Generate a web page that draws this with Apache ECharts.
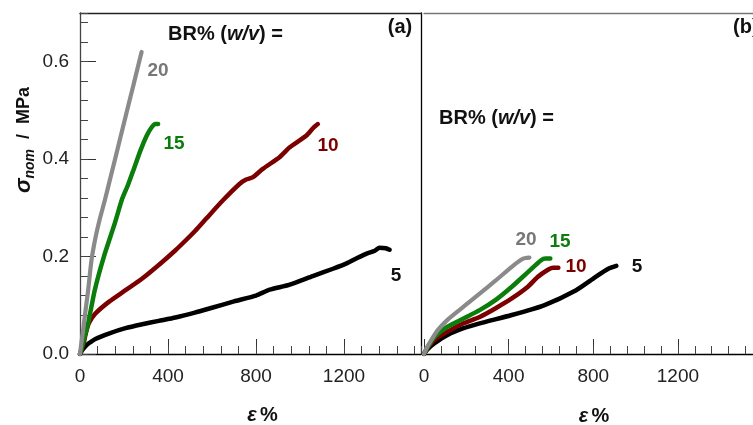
<!DOCTYPE html>
<html>
<head>
<meta charset="utf-8">
<script src="https://cdn.jsdelivr.net/npm/echarts@6/dist/echarts.min.js"></script>
<style>
html,body{margin:0;padding:0;background:#fff;}
#chart{width:753px;height:425px;}
</style>
</head>
<body>
<div id="chart"></div>
<script>
// ---------- data ----------
// Panel (a): [strain %, nominal stress MPa]
var a20 = [[0,0],[6,0.022],[14,0.048],[24,0.085],[37,0.131],[52,0.192],[70,0.238],[90,0.277],[112,0.314],[140,0.365],[161,0.403],[185,0.447],[207,0.487],[225,0.52],[245,0.556],[262,0.587],[280,0.62]];
var a15 = [[0,0],[8,0.012],[17,0.029],[37,0.063],[67,0.131],[108,0.199],[158,0.268],[192,0.319],[219,0.348],[240,0.374],[275,0.418],[303,0.448],[325,0.465],[343,0.472],[355,0.472]];
var a10 = [[0,0],[8,0.01],[17,0.022],[25,0.04],[40,0.063],[70,0.083],[131,0.107],[207,0.131],[283,0.155],[374,0.189],[434,0.213],[480,0.233],[522,0.252],[574,0.278],[651,0.316],[725,0.349],[755,0.358],[786,0.363],[831,0.380],[907,0.404],[952,0.424],[1028,0.448],[1060,0.464],[1081,0.472]];
var a5  = [[0,0],[10,0.008],[25,0.016],[40,0.022],[70,0.031],[131,0.042],[207,0.053],[283,0.061],[358,0.068],[434,0.075],[522,0.085],[600,0.095],[700,0.108],[800,0.12],[862,0.132],[950,0.142],[1058,0.160],[1150,0.175],[1212,0.186],[1260,0.197],[1303,0.206],[1340,0.212],[1361,0.218],[1390,0.217],[1407,0.214]];
// Panel (b)
var b20 = [[0,0],[12,0.012],[35,0.029],[65,0.049],[111,0.070],[187,0.097],[263,0.124],[339,0.151],[415,0.179],[461,0.194],[480,0.197],[498,0.198]];
var b15 = [[0,0],[15,0.012],[50,0.035],[111,0.056],[187,0.073],[263,0.090],[339,0.111],[415,0.138],[491,0.168],[552,0.192],[575,0.196],[597,0.196]];
var b10 = [[0,0],[15,0.011],[50,0.029],[111,0.046],[187,0.063],[263,0.076],[339,0.094],[415,0.114],[491,0.138],[537,0.158],[582,0.172],[610,0.177],[635,0.177]];
var b5  = [[0,0],[15,0.009],[50,0.022],[111,0.039],[187,0.053],[263,0.063],[415,0.080],[567,0.100],[719,0.131],[810,0.158],[871,0.175],[909,0.181]];

var xTickStep = 400, xMinorStep = 80;
var yTickStep = 0.2, yMinorStep = 0.04;
var xMaxA = 1550, xMaxB = 1555, yMax = 0.7;
var concLabels = ['20', '15', '10', '5'];

// ---------- styles ----------
var FONT = 'Liberation Sans, Arial, sans-serif';
var cGray = '#8a8a8a', cGreen = '#0b7d0b', cRed = '#7c0000', cBlack = '#000000';
var labelColors = ['#777777', cGreen, cRed, '#111111'];

function mainX(grid, max, showLabels) {
  return {
    type: 'value', gridIndex: grid, position: 'bottom', min: 0, max: max, interval: xTickStep,
    axisLine: { show: true, onZero: false, lineStyle: { color: '#000', width: 1.3 } },
    axisTick: { show: true, inside: true, length: 15, lineStyle: { color: '#333', width: 1 } },
    axisLabel: { show: showLabels, showMaxLabel: false, margin: 13, fontSize: 19, color: '#222', fontFamily: FONT,
      formatter: function (v) { return String(v); } },
    splitLine: { show: false }
  };
}
function minorX(grid, max) {
  return {
    type: 'value', gridIndex: grid, position: 'bottom', min: 0, max: max, interval: xMinorStep,
    axisLine: { show: false, onZero: false },
    axisTick: { show: true, inside: true, length: 8, lineStyle: { color: '#444', width: 1 } },
    axisLabel: { show: false }, splitLine: { show: false }
  };
}
function topX(grid, max, color) {
  return {
    type: 'value', gridIndex: grid, position: 'top', min: 0, max: max,
    axisLine: { show: true, onZero: false, lineStyle: { color: color, width: 1.3 } },
    axisTick: { show: false }, axisLabel: { show: false }, splitLine: { show: false }
  };
}

var option = {
  backgroundColor: '#fff',
  animation: false,
  grid: [
    { left: 80, top: 13, width: 341, height: 341 },
    { left: 424, top: 13, width: 341, height: 341 }
  ],
  xAxis: [
    mainX(0, xMaxA, true),
    minorX(0, xMaxA),
    topX(0, xMaxA, '#222'),
    mainX(1, xMaxB, true),
    minorX(1, xMaxB),
    topX(1, xMaxB, '#777')
  ],
  yAxis: [
    {
      type: 'value', gridIndex: 0, position: 'left', min: 0, max: yMax, interval: yTickStep,
      axisLine: { show: true, onZero: false, lineStyle: { color: '#444', width: 1.3 } },
      axisTick: { show: true, inside: true, length: 16, lineStyle: { color: '#333', width: 1 } },
      axisLabel: { showMaxLabel: false, margin: 11, fontSize: 19, color: '#222', fontFamily: FONT,
        formatter: function (v) { return v.toFixed(1); } },
      splitLine: { show: false }
    },
    {
      type: 'value', gridIndex: 0, position: 'left', min: 0, max: yMax, interval: yMinorStep,
      axisLine: { show: false, onZero: false },
      axisTick: { show: true, inside: true, length: 8, lineStyle: { color: '#444', width: 1 } },
      axisLabel: { show: false }, splitLine: { show: false }
    },
    {
      type: 'value', gridIndex: 0, position: 'right', min: 0, max: yMax,
      axisLine: { show: true, onZero: false, lineStyle: { color: '#000', width: 1.3 } },
      axisTick: { show: false }, axisLabel: { show: false }, splitLine: { show: false }
    },
    {
      type: 'value', gridIndex: 1, position: 'left', min: 0, max: yMax,
      axisLine: { show: false, onZero: false }, axisTick: { show: false },
      axisLabel: { show: false }, splitLine: { show: false }
    }
  ],
  series: [],
  graphic: []
};

function addLine(data, color, xi, yi, w) {
  option.series.push({
    type: 'line', data: data, xAxisIndex: xi, yAxisIndex: yi, showSymbol: false, smooth: 0.2,
    lineStyle: { color: color, width: w, cap: 'round', join: 'round' }, z: 3
  });
}
addLine(a5, cBlack, 0, 0, 4.5);
addLine(a10, cRed, 0, 0, 4.5);
addLine(a15, cGreen, 0, 0, 4.5);
addLine(a20, cGray, 0, 0, 4.2);
addLine(b5, cBlack, 3, 3, 4.5);
addLine(b10, cRed, 3, 3, 4.5);
addLine(b15, cGreen, 3, 3, 4.5);
addLine(b20, cGray, 3, 3, 4.2);

function txt(x, y, text, size, color, align, extra) {
  var st = { text: text, fill: color, font: 'bold ' + size + 'px ' + FONT, align: align || 'center', verticalAlign: 'middle' };
  if (extra) for (var k in extra) st[k] = extra[k];
  return { type: 'text', x: x, y: y, style: st, z: 10 };
}
var G = option.graphic;
// curve labels panel (a)
G.push(txt(158, 71, concLabels[0], 19, labelColors[0]));
G.push(txt(174, 144, concLabels[1], 19, labelColors[1]));
G.push(txt(328, 146, concLabels[2], 19, labelColors[2]));
G.push(txt(396, 276, concLabels[3], 19, labelColors[3]));
// curve labels panel (b)
G.push(txt(526, 240, concLabels[0], 19, labelColors[0]));
G.push(txt(560, 241.5, concLabels[1], 19, labelColors[1]));
G.push(txt(576, 266.5, concLabels[2], 19, labelColors[2]));
G.push(txt(637, 266.5, concLabels[3], 19, labelColors[3]));

var brRich = {
  b: { fontFamily: FONT, fontWeight: 'bold', fontSize: 20, fill: '#111' },
  i: { fontFamily: FONT, fontWeight: 'bold', fontStyle: 'italic', fontSize: 20, fill: '#111' }
};
G.push({ type: 'text', x: 168, y: 34, z: 10, style: { text: '{b|BR% (}{i|w/v}{b|) =}', rich: brRich, align: 'left', verticalAlign: 'middle' } });
G.push({ type: 'text', x: 439, y: 118, z: 10, style: { text: '{b|BR% (}{i|w/v}{b|) =}', rich: brRich, align: 'left', verticalAlign: 'middle' } });
G.push(txt(400, 27, '(a)', 20, '#111'));
G.push(txt(733, 27, '(b)', 20, '#111', 'left'));

// x axis titles
var epsRich = {
  e: { fontFamily: FONT, fontWeight: 'bold', fontStyle: 'italic', fontSize: 20, fill: '#111' },
  p: { fontFamily: FONT, fontWeight: 'bold', fontSize: 20, fill: '#111' }
};
G.push({ type: 'text', x: 262.5, y: 415, z: 10, style: { text: '{e|ε} {p|%}', rich: epsRich, align: 'center', verticalAlign: 'middle' } });
G.push({ type: 'text', x: 594, y: 416, z: 10, style: { text: '{e|ε} {p|%}', rich: epsRich, align: 'center', verticalAlign: 'middle' } });

// y axis title
G.push({
  type: 'text', x: 24, y: 140, rotation: Math.PI / 2, z: 10,
  style: {
    text: '{s|σ}{n|nom}{m|  /  MPa}', align: 'center', verticalAlign: 'middle',
    rich: {
      s: { fontFamily: FONT, fontWeight: 'bold', fontStyle: 'italic', fontSize: 22, fill: '#111', lineHeight: 26 },
      n: { fontFamily: FONT, fontWeight: 'bold', fontStyle: 'italic', fontSize: 14, fill: '#111', verticalAlign: 'bottom', lineHeight: 26, padding: [8, 0, 0, 0] },
      m: { fontFamily: FONT, fontWeight: 'bold', fontSize: 18, fill: '#111', lineHeight: 26 }
    }
  }
});

var chart = echarts.init(document.getElementById('chart'), null, { renderer: 'canvas' });
chart.setOption(option);
</script>
</body>
</html>
